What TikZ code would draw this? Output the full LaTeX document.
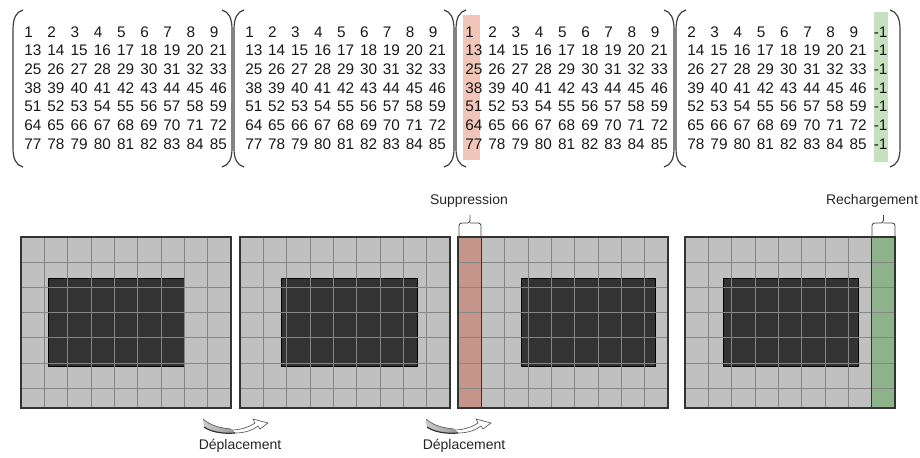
\documentclass[tikz,border=0pt]{standalone}
\usepackage{fontspec}
\setmainfont{Liberation Sans}
\usepackage{xcolor}
\usetikzlibrary{arrows.meta, positioning}

\definecolor{cellgray}{HTML}{C0C0C0}
\definecolor{gridline}{HTML}{868686}
\definecolor{darkblock}{HTML}{333333}
\definecolor{suppcol}{HTML}{C4968A}
\definecolor{rechcol}{HTML}{8DB38B}
\definecolor{supplight}{HTML}{F2C5B9}
\definecolor{rechlight}{HTML}{C6E1C0}

\tikzset{
  num/.style={anchor=base west, inner sep=0pt, text=black!90, font=\fontsize{11.5}{13}\selectfont},
  brline/.style={line width=0.9pt, black!75},
  frame/.style={line width=0.8pt, black!80},
  lbl/.style={inner sep=0pt, text=black!85, font=\fontsize{10.5}{12}\selectfont}
}

% round brackets of the matrices
\newcommand{\openbr}[1]{\draw[brline] (#1+10,10) .. controls (#1+3,12) and (#1,18) .. (#1,30) -- (#1,148) .. controls (#1,159) and (#1+3,165) .. (#1+10,167);}
\newcommand{\closebr}[1]{\draw[brline] (#1-10,10) .. controls (#1-3,12) and (#1,18) .. (#1,30) -- (#1,148) .. controls (#1,159) and (#1-3,165) .. (#1-10,167);}

% curved displacement arrow
\newcommand{\movearrow}[2]{%
  \begin{scope}[shift={(#1,#2)}]
    \filldraw[fill=white, draw=gray!70!black, line width=0.5pt] (28,10) .. controls (38,10) and (46,7) .. (52,3) -- (50,-1) -- (65,3) -- (57,9) -- (55,6) .. controls (50,10) and (42,13) .. (32,13) -- cycle;
    \shade[left color=gray!40, right color=gray!80] (0,-1) .. controls (8,6) and (18,8) .. (28,9) -- (32,13) .. controls (20,14) and (8,12) .. (1,7) -- cycle;
    \draw[gray!70!black, line width=0.5pt] (0,-1) .. controls (8,6) and (18,8) .. (28,9);
    \draw[gray!40!black, line width=0.9pt] (1,7) .. controls (8,12) and (20,14) .. (32,13);
  \end{scope}}

\begin{document}
\begin{tikzpicture}[x=0.75pt, y=-0.75pt]
\useasboundingbox (0,0) rectangle (920,457);

% Matrices: highlighted columns
\fill[supplight] (463,15) rectangle (480,160);
\fill[rechlight] (874,12) rectangle (888,162);

% Matrices: entries
\foreach \k/\xo/\dx in {1/24/23.2, 2/245/22.95, 3/465/23.2} {
  \foreach \s [count=\r from 0] in {1,13,25,38,51,64,77} {
    \foreach \c in {0,...,8} {
      \pgfmathtruncatemacro{\v}{\s+\c}
      \node[num] (m\k-\r-\c) at (\xo+\c*\dx, 37+\r*18.7) {\v};
    }
  }
}
\foreach \s [count=\r from 0] in {1,13,25,38,51,64,77} {
  \foreach \c in {0,...,7} {
    \pgfmathtruncatemacro{\v}{\s+\c+1}
    \node[num] (m4-\r-\c) at (687+\c*23.2, 37+\r*18.7) {\v};
  }
  \node[num] (m4-\r-8) at (873.5, 37+\r*18.7) {-1};
}

% Matrices: brackets
\openbr{13} \closebr{232}
\openbr{234} \closebr{454}
\openbr{456} \closebr{674}
\openbr{676} \closebr{900}

% Grids: cells and dark block
\foreach \px/\dl/\dr in {21/48/184, 240/281/417, 458/521/655, 685/723/858} {
  \fill[cellgray] (\px,237) rectangle ++(210,171);
  \fill[darkblock] (\dl,278) rectangle (\dr,366);
  \draw[black, line width=0.6pt] (\dl,278) rectangle (\dr,366);
}

% removed and reloaded columns
\fill[suppcol] (458,237) rectangle (481.3,408);
\fill[rechcol] (871.7,237) rectangle (895,408);

% Grid lines and frames
\foreach \px in {21,240,458,685} {
  \foreach \i in {1,...,8}
    \draw[gridline, line width=0.6pt] (\px+\i*23.33,237) -- ++(0,171);
  \foreach \y in {262,287,312,337,363,388}
    \draw[gridline, line width=0.6pt] (\px,\y) -- ++(210,0);
  \draw[frame] (\px,237) rectangle ++(210,171);
}
\draw[frame] (481.3,237) -- (481.3,408);
\draw[frame] (871.7,237) -- (871.7,408);

% Braces and labels
\draw[brline, line width=0.6pt, rounded corners=2] (459,237) -- (459,223) -- (470,223) -- (470,215);
\draw[brline, line width=0.6pt, rounded corners=2] (481,237) -- (481,223) -- (470,223);
\node[lbl] (supp) at (469,201) {Suppression};
\draw[brline, line width=0.6pt, rounded corners=2] (872,237) -- (872,223) -- (883.5,223) -- (883.5,215);
\draw[brline, line width=0.6pt, rounded corners=2] (895,237) -- (895,223) -- (883.5,223);
\node[lbl] (rech) at (872,201) {Rechargement};

% Displacement arrows
\movearrow{203}{420}
\node[lbl] (depl1) at (240,446) {Déplacement};
\movearrow{426}{420}
\node[lbl] (depl2) at (464,446) {Déplacement};
\end{tikzpicture}
\end{document}
